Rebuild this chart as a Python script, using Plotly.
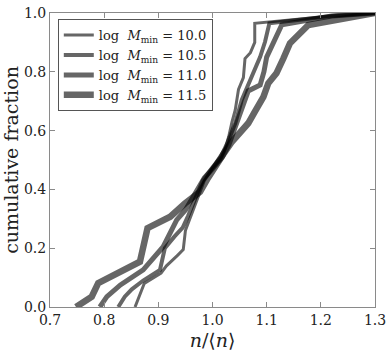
import plotly.graph_objects as go

# ── Dados ────────────────────────────────────────────────────────────────────
LOG_MMIN = ["10.0", "10.5", "11.0", "11.5"]

X_100 = [0.857, 0.866, 0.874, 0.905, 0.915, 0.935, 0.946, 0.950, 0.962, 0.972, 0.985,
         1.000, 1.015, 1.022, 1.030, 1.036, 1.042, 1.048, 1.057, 1.060, 1.070, 1.078,
         1.078, 1.220, 1.300]
Y_100 = [0.000, 0.040, 0.080, 0.115, 0.140, 0.175, 0.195, 0.260, 0.320, 0.370, 0.430,
         0.470, 0.500, 0.530, 0.580, 0.630, 0.670, 0.740, 0.780, 0.845, 0.865, 0.900,
         0.965, 0.990, 1.000]

X_105 = [0.826, 0.838, 0.851, 0.872, 0.903, 0.912, 0.930, 0.945, 0.955, 0.968, 0.982,
         0.998, 1.015, 1.028, 1.042, 1.054, 1.063, 1.075, 1.088, 1.097, 1.100, 1.105,
         1.220, 1.300]
Y_105 = [0.000, 0.035, 0.060, 0.090, 0.126, 0.200, 0.240, 0.270, 0.310, 0.370, 0.430,
         0.470, 0.510, 0.560, 0.625, 0.704, 0.744, 0.800, 0.851, 0.902, 0.931, 0.965,
         0.990, 1.000]

X_110 = [0.792, 0.805, 0.830, 0.872, 0.909, 0.925, 0.934, 0.950, 0.968, 0.985, 1.000,
         1.018, 1.030, 1.040, 1.050, 1.058, 1.066, 1.088, 1.095, 1.100, 1.110, 1.122,
         1.128, 1.220, 1.300]
Y_110 = [0.000, 0.035, 0.075, 0.126, 0.205, 0.262, 0.296, 0.330, 0.390, 0.440, 0.470,
         0.510, 0.550, 0.600, 0.650, 0.700, 0.735, 0.755, 0.800, 0.850, 0.890, 0.930,
         0.960, 0.990, 1.000]

X_115 = [0.748, 0.777, 0.789, 0.866, 0.880, 0.922, 0.949, 0.977, 0.992, 1.005, 1.020,
         1.035, 1.051, 1.066, 1.078, 1.094, 1.103, 1.118, 1.131, 1.143, 1.177, 1.300]
Y_115 = [0.000, 0.035, 0.081, 0.154, 0.268, 0.307, 0.352, 0.392, 0.440, 0.480, 0.520,
         0.560, 0.591, 0.625, 0.664, 0.715, 0.761, 0.795, 0.846, 0.897, 0.959, 1.000]

CURVAS = [(X_100, Y_100), (X_105, Y_105), (X_110, Y_110), (X_115, Y_115)]
LARGURAS = [3, 4, 5, 6.5]

FONTE = "DejaVu Serif"
COR_EIXO = "#8a8a8a"

fig = go.Figure()

for rotulo, (xs, ys), w in zip(LOG_MMIN, CURVAS, LARGURAS):
    fig.add_trace(go.Scatter(
        x=xs, y=ys,
        mode="lines",
        line=dict(color="rgba(0,0,0,0.6)", width=w),
        name=f"log  <i>M</i><sub>min</sub> = {rotulo}",
    ))

eixo = dict(
    showgrid=False, zeroline=False, automargin=False,
    showline=True, linecolor=COR_EIXO, linewidth=1, mirror="ticks",
    ticks="inside", ticklen=5, tickcolor=COR_EIXO,
    tickformat=".1f",
    tickfont=dict(family=FONTE, size=14, color="#222"),
)

fig.update_layout(
    width=390, height=355,
    paper_bgcolor="white", plot_bgcolor="white",
    margin=dict(l=50, r=15, t=13, b=48),
    font=dict(family=FONTE, color="#222"),
    xaxis=dict(**eixo, range=[0.7, 1.3], dtick=0.1,
               title=dict(text="<i>n</i>/⟨<i>n</i>⟩", font=dict(size=19), standoff=6)),
    yaxis=dict(**eixo, range=[0, 1], dtick=0.2,
               title=dict(text="cumulative fraction", font=dict(size=19), standoff=4)),
    legend=dict(
        x=0.024, y=0.979, xanchor="left", yanchor="top",
        bgcolor="white", bordercolor="#555", borderwidth=1,
        font=dict(family=FONTE, size=13, color="#222"),
        tracegroupgap=0,
    ),
)

# a página traz margem de 8px no body; zera para a figura ocupar a janela
fig.write_html("out.html", config={"displayModeBar": False},
               post_script="document.body.style.margin='0';")
